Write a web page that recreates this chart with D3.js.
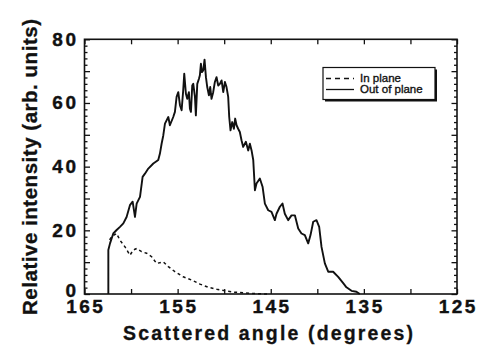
<!DOCTYPE html>
<html>
<head>
<meta charset="utf-8">
<script src="https://cdn.jsdelivr.net/npm/d3@7"></script>
<style>
  html, body { margin: 0; padding: 0; background: #fff; }
  svg { display: block; }
  text { font-family: "Liberation Sans", Arial, Helvetica, sans-serif; fill: #111; }
</style>
</head>
<body>
<svg id="chart" width="481" height="346"></svg>
<script>
// Scattered angle (degrees) and relative intensity, out-of-plane polarisation
const outAngle = [
  162.44, 162.44, 162.26, 161.91, 161.55, 161.19, 160.83, 160.48, 160.12, 159.83,
  159.58, 159.40, 159.04, 158.76, 158.51, 158.15, 157.61, 157.08, 156.90, 156.72,
  156.54, 156.36, 156.00,
  155.83, 155.47, 155.29, 155.11, 154.93, 154.75, 154.57, 154.40, 154.29, 154.11,
  153.97, 153.79, 153.68, 153.57, 153.43, 153.32, 153.14, 153.04, 152.89, 152.71,
  152.61, 152.50, 152.39, 152.25, 152.11, 151.96, 151.82, 151.64, 151.50, 151.36,
  151.18, 151.00, 150.82, 150.64, 150.46, 150.28, 150.10, 149.92, 149.75, 149.57,
  149.46, 149.32, 149.14, 148.96, 148.82, 148.67, 148.50, 148.32, 148.14, 147.96,
  147.67, 147.42, 147.24, 147.06,
  146.88, 146.70, 146.53, 146.17, 145.88, 145.63, 145.27, 144.92, 144.56, 144.38,
  144.02, 143.74, 143.49, 143.13, 142.77, 142.41, 142.05, 141.70, 141.34, 140.98,
  140.73, 140.44, 140.09, 139.80, 139.55, 139.19, 138.83, 138.30, 137.76, 137.22,
  136.87, 136.33, 135.80, 135.44
];
const outIntensity = [
  0.0, 13.8, 15.9, 19.0, 20.1, 21.1, 22.2, 24.2, 27.9, 29.0,
  24.2, 28.4, 30.5, 36.8, 37.8, 39.4, 41.0, 42.1, 44.1, 47.2,
  49.8, 53.5, 55.6,
  53.0, 55.6, 57.2, 61.9, 63.4, 59.3, 57.7, 64.0, 69.2, 62.9,
  61.3, 63.4, 58.2, 57.2, 65.5, 66.0, 61.9, 56.1, 66.0, 67.6,
  68.7, 72.3, 69.7, 70.2, 73.6, 68.1, 65.0, 62.4, 65.0, 61.3,
  63.4, 66.6, 68.1, 65.5, 66.0, 67.1, 63.4, 66.6, 65.0, 61.9,
  55.6, 51.4, 54.0, 51.9, 55.1, 53.0, 51.9, 50.9, 48.3, 46.2,
  47.8, 45.1, 47.2, 45.1,
  42.1, 32.6, 34.7, 36.3, 33.7, 28.4, 26.3, 25.8, 23.2, 25.2,
  27.4, 28.4, 25.2, 23.2, 24.7, 24.7, 20.6, 19.0, 18.5, 15.9,
  18.5, 22.7, 23.2, 21.1, 14.8, 9.6, 7.0, 7.0, 5.4, 3.4,
  2.1, 1.0, 0.7, 0.0
];

// In-plane polarisation
const inAngle = [
  162.30, 162.10, 161.55, 161.19, 160.65, 160.12, 159.76, 159.40, 158.87, 158.33,
  157.79, 157.26, 156.54, 156.00, 155.29, 154.40, 153.50, 152.60, 151.70, 150.80,
  149.90, 149.00, 147.20, 145.40
];
const inIntensity = [
  17.0, 18.0, 19.0, 16.9, 14.8, 12.2, 13.8, 14.3, 13.3, 12.8,
  11.7, 9.6, 10.1, 8.6, 7.0, 5.4, 4.4, 3.1, 2.1, 1.5,
  1.0, 0.6, 0.2, 0.0
];

const xTickLabels = [165, 155, 145, 135, 125];
const yTickLabels = [0, 20, 40, 60, 80];
const seriesNames = ["In plane", "Out of plane"];
const xTitle = "Scattered angle (degrees)";
const yTitle = "Relative intensity (arb. units)";

const svg = d3.select("#chart");
const plotLeft = 84.5, plotRight = 457, plotTop = 39.3, plotBottom = 294;

const x = d3.scaleLinear().domain([165, 125]).range([plotLeft, plotRight]);
const y = d3.scaleLinear().domain([0, 80]).range([plotBottom, plotTop]);

const outData = outAngle.map((a, i) => [a, outIntensity[i]]);
const inData = inAngle.map((a, i) => [a, inIntensity[i]]);

const line = d3.line().x(d => x(d[0])).y(d => y(d[1]));

// Curves
svg.append("path")
  .attr("d", line(inData))
  .attr("fill", "none")
  .attr("stroke", "#111")
  .attr("stroke-width", 1.5)
  .attr("stroke-dasharray", "3,3");

svg.append("path")
  .attr("d", line(outData))
  .attr("fill", "none")
  .attr("stroke", "#111")
  .attr("stroke-width", 1.9)
  .attr("stroke-linejoin", "round");

// Inward ticks on all four sides
const xTicks = d3.range(165, 124, -5);
const yTicks = d3.range(0, 81, 2);
const gx = d3.axisBottom(x).tickValues(xTicks).tickSize(-5).tickFormat("");
const gxTop = d3.axisTop(x).tickValues(xTicks).tickSize(-5).tickFormat("");
svg.append("g").attr("transform", `translate(0,${plotBottom})`).call(gx);
svg.append("g").attr("transform", `translate(0,${plotTop})`).call(gxTop);

const yMinor = d3.axisLeft(y).tickValues(yTicks.filter(v => v % 10)).tickSize(-3).tickFormat("");
const yMajor = d3.axisLeft(y).tickValues(yTicks.filter(v => v % 10 === 0)).tickSize(-5.5).tickFormat("");
const yMinorR = d3.axisRight(y).tickValues(yTicks.filter(v => v % 10)).tickSize(-3).tickFormat("");
const yMajorR = d3.axisRight(y).tickValues(yTicks.filter(v => v % 10 === 0)).tickSize(-5.5).tickFormat("");
svg.append("g").attr("transform", `translate(${plotLeft},0)`).call(yMinor);
svg.append("g").attr("transform", `translate(${plotLeft},0)`).call(yMajor);
svg.append("g").attr("transform", `translate(${plotRight},0)`).call(yMinorR);
svg.append("g").attr("transform", `translate(${plotRight},0)`).call(yMajorR);

svg.selectAll(".domain").remove();
svg.selectAll(".tick line").attr("stroke", "#111").attr("stroke-width", 1.3);

// Frame
svg.append("rect")
  .attr("x", plotLeft).attr("y", plotTop)
  .attr("width", plotRight - plotLeft).attr("height", plotBottom - plotTop)
  .attr("fill", "none").attr("stroke", "#111").attr("stroke-width", 1.6);

// Tick labels
const ls = 2.5;
svg.append("g").selectAll("text")
  .data(xTickLabels).join("text")
  .attr("x", d => x(d) + ls / 2)
  .attr("y", 312.5)
  .attr("text-anchor", "middle")
  .attr("font-size", 19)
  .attr("font-weight", "bold")
  .attr("letter-spacing", ls)
  .attr("stroke", "#111").attr("stroke-width", 0.4)
  .text(d => d);

svg.append("g").selectAll("text")
  .data(yTickLabels).join("text")
  .attr("x", 76 + ls)
  .attr("y", d => y(d) + 6.5 - (d === 0 ? 4 : 0))
  .attr("text-anchor", "end")
  .attr("font-size", 19)
  .attr("font-weight", "bold")
  .attr("letter-spacing", ls)
  .attr("stroke", "#111").attr("stroke-width", 0.4)
  .text(d => d);

// Axis titles
svg.append("text")
  .attr("x", 268).attr("y", 340)
  .attr("text-anchor", "middle")
  .attr("font-size", 19.5)
  .attr("font-weight", "bold")
  .attr("textLength", 290)
  .attr("lengthAdjust", "spacing")
  .attr("stroke", "#111").attr("stroke-width", 0.3)
  .text(xTitle);

svg.append("text")
  .attr("transform", "translate(36.5,167) rotate(-90)")
  .attr("text-anchor", "middle")
  .attr("font-size", 20.5)
  .attr("font-weight", "bold")
  .attr("textLength", 296)
  .attr("lengthAdjust", "spacing")
  .attr("stroke", "#111").attr("stroke-width", 0.3)
  .text(yTitle);

// Legend box with drop shadow
const lg = svg.append("g");
lg.append("rect").attr("x", 325).attr("y", 69.5).attr("width", 112).attr("height", 32).attr("fill", "#111");
lg.append("rect").attr("x", 323).attr("y", 67.5).attr("width", 112).attr("height", 32)
  .attr("fill", "#fff").attr("stroke", "#111").attr("stroke-width", 1.2);

const rows = [
  { name: seriesNames[0], dash: "5,4", ly: 78.5, ty: 81.5 },
  { name: seriesNames[1], dash: null, ly: 89.5, ty: 92.5 }
];
rows.forEach(r => {
  lg.append("line")
    .attr("x1", 326).attr("x2", 354)
    .attr("y1", r.ly).attr("y2", r.ly)
    .attr("stroke", "#111").attr("stroke-width", 1.3)
    .attr("stroke-dasharray", r.dash);
  lg.append("text")
    .attr("x", 360).attr("y", r.ty)
    .attr("font-size", 11.5)
    .attr("stroke", "#111").attr("stroke-width", 0.35)
    .text(r.name);
});
</script>
</body>
</html>
